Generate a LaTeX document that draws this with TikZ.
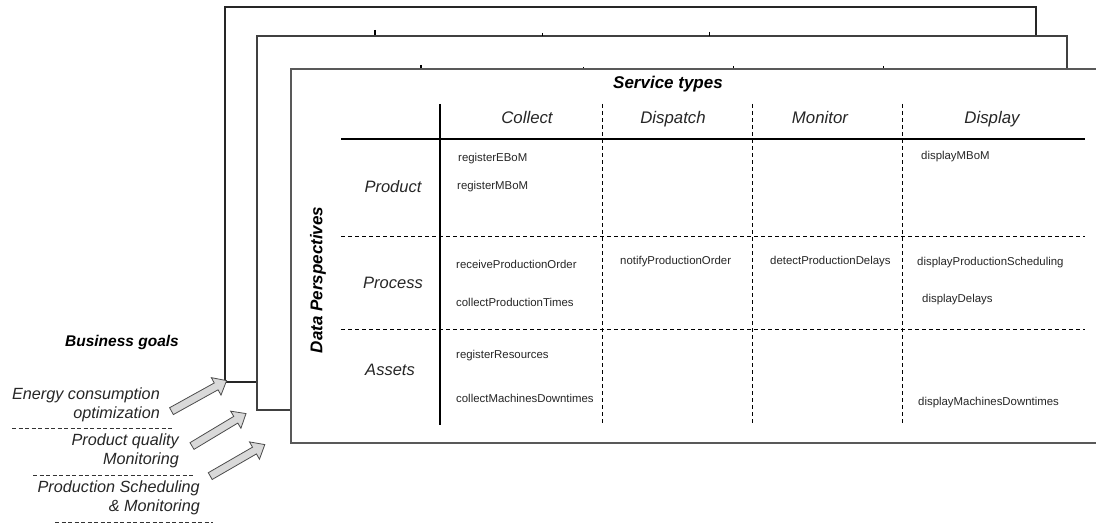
\documentclass[tikz,border=0pt]{standalone}
\usepackage{fontspec}
\setmainfont{Liberation Sans}
\usetikzlibrary{shapes.arrows}
\tikzset{
  page/.style={draw=black!85, line width=1.1pt, fill=white},
  thickrule/.style={line width=2.6pt, black},
  dashrule/.style={line width=1pt, dash pattern=on 4pt off 3pt, black},
  cell/.style={anchor=west, inner sep=0pt, font=\fontsize{11.4}{13}\selectfont, text=black!85},
  colhead/.style={anchor=base, inner sep=0pt, font=\fontsize{16.8}{19}\selectfont\itshape, text=black!85},
  rowhead/.style={inner sep=0pt, font=\fontsize{16.5}{19}\selectfont\itshape, text=black!85},
  title/.style={inner sep=0pt, font=\fontsize{17}{19}\selectfont\bfseries\itshape},
  goal/.style={anchor=east, align=right, inner sep=0pt, font=\fontsize{16.2}{19}\selectfont\itshape, text=black!85},
  goalsep/.style={line width=0.8pt, dash pattern=on 4pt off 2.5pt, black!80},
  hollowarrow/.style={single arrow, draw=black!70, fill=black!15, line width=0.8pt,
     minimum width=20pt, single arrow head extend=5pt, single arrow tip angle=80,
     single arrow head indent=0pt, inner sep=2.8pt, minimum height=63pt},
  tick/.style={black, line width=1pt}
}
\begin{document}
\begin{tikzpicture}[x=1pt,y=-1pt]
\useasboundingbox (0,0) rectangle (1096,527);
% back pages
\draw[page] (225,7) rectangle (1036,382);
\draw[tick, line width=2pt] (375,30) -- (375,36);
\draw[page, draw=black!75] (257,36) rectangle (1067,410);
\draw[tick, line width=0.6pt] (542,33) -- (542,36);
\draw[tick, line width=0.6pt] (709,32) -- (709,36);
\draw[tick, line width=2pt] (421,65) -- (421,69);
\draw[tick, line width=0.6pt] (583,67) -- (583,69);
\draw[tick, line width=0.6pt] (733,66) -- (733,69);
\draw[tick, line width=0.6pt] (883,66) -- (883,69);
% front page
\fill[white] (291,69) rectangle (1100,443);
\draw[draw=black!65, line width=1.6pt] (1100,69) -| (291,443) -- (1100,443);
% titles
\node[title] (st) at (668,84) {Service types};
\node[title, rotate=90] (dp) at (318,280) {Data Perspectives};
% column headers
\node[colhead] (hc) at (527,123) {Collect};
\node[colhead] (hd) at (673,123) {Dispatch};
\node[colhead] (hm) at (820,123) {Monitor};
\node[colhead] (hy) at (992,123) {Display};
% row headers
\node[rowhead] (rp) at (393,187) {Product};
\node[rowhead] (rr) at (393,283) {Process};
\node[rowhead] (ra) at (390,370) {Assets};
% grid
\draw[thickrule] (341,139) -- (1085,139);
\draw[thickrule] (440,104) -- (440,425);
\foreach \x in {602,752,902} \draw[dashrule] (\x,104) -- (\x,423);
\foreach \y in {236,329} \draw[dashrule] (341,\y) -- (1085,\y);
% cells
\node[cell] (c1) at (458,159) {registerEBoM};
\node[cell] (c2) at (457,187) {registerMBoM};
\node[cell] (c3) at (921,157) {displayMBoM};
\node[cell] (c4) at (456,264) {receiveProductionOrder};
\node[cell] (c5) at (456,302) {collectProductionTimes};
\node[cell] (c6) at (620,262) {notifyProductionOrder};
\node[cell] (c7) at (770,262) {detectProductionDelays};
\node[cell] (c8) at (917,263) {displayProductionScheduling};
\node[cell] (c9) at (922,300) {displayDelays};
\node[cell] (c10) at (456,356) {registerResources};
\node[cell] (c11) at (456,398) {collectMachinesDowntimes};
\node[cell] (c12) at (918,403) {displayMachinesDowntimes};
% business goals
\node[title, font=\fontsize{15.5}{19}\selectfont\bfseries\itshape] (bg) at (122,342) {Business goals};
\node[goal] (g1) at (160,405) {Energy consumption\\optimization};
\draw[goalsep] (12,428) -- (172,428);
\node[goal] (g2) at (179,451) {Product quality\\Monitoring};
\draw[goalsep] (33,475) -- (193,475);
\node[goal] (g3) at (200,498) {Production Scheduling\\\& Monitoring};
\draw[goalsep] (55,522) -- (213,522);
% arrows
\node[hollowarrow, rotate=29] (a1) at (197,397) {};
\node[hollowarrow, rotate=31] (a2) at (217,431) {};
\node[hollowarrow, rotate=30] (a3) at (235.5,461.5) {};
\end{tikzpicture}
\end{document}
